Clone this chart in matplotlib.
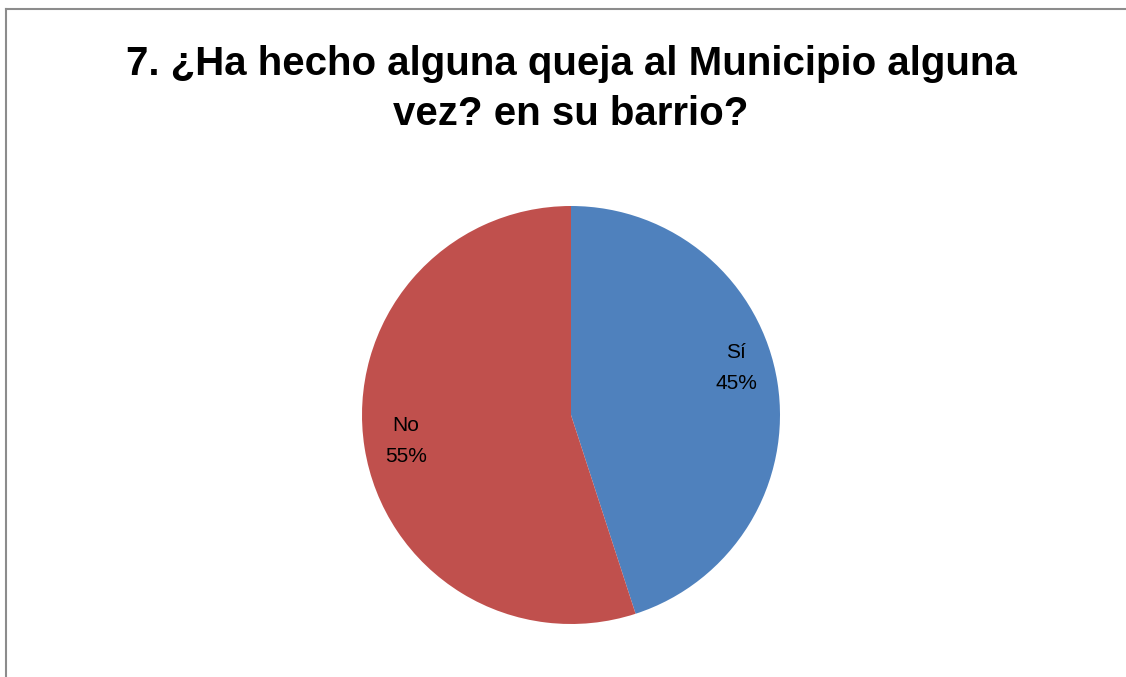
import matplotlib.pyplot as plt

categories = ['Sí', 'No']
values = [45, 55]
colors = ['#4F81BD', '#C0504D']
title = '7. ¿Ha hecho alguna queja al Municipio alguna\nvez? en su barrio?'

fig = plt.figure(figsize=(11.26, 6.77), dpi=100)
W, H = 1126, 677

# chart area border (gray, only top/left visible in the screenshot)
fig.add_artist(plt.Line2D([6 / W, 6 / W], [0, 1 - 9 / H], color='#8c8c8c', lw=1.5))
fig.add_artist(plt.Line2D([6 / W, 1], [1 - 9 / H, 1 - 9 / H], color='#8c8c8c', lw=1.5))

fig.text(571 / W, 1 - 89 / H, title, ha='center', va='center',
         fontsize=29, fontweight='bold', family='Liberation Sans', linespacing=1.42)

# pie centre (571, 415), radius 209 px
cx, cy, r = 571, 677 - 415, 209
ax = fig.add_axes([(cx - r) / W, (cy - r) / H, 2 * r / W, 2 * r / H])
labels = [f'{c}\n{v}%' for c, v in zip(categories, values)]
wedges, texts = ax.pie(values, labels=labels, colors=colors, startangle=90,
                       counterclock=False, labeldistance=0.8,
                       textprops={'fontsize': 15, 'family': 'Liberation Sans',
                                  'ha': 'center', 'va': 'center', 'linespacing': 1.8})
x, y = texts[0].get_position()
texts[0].set_position((x, y + 0.1))
ax.set_xlim(-1, 1)
ax.set_ylim(-1, 1)
ax.set_aspect('equal')
ax.axis('off')

fig.savefig('out.png', dpi=100)
